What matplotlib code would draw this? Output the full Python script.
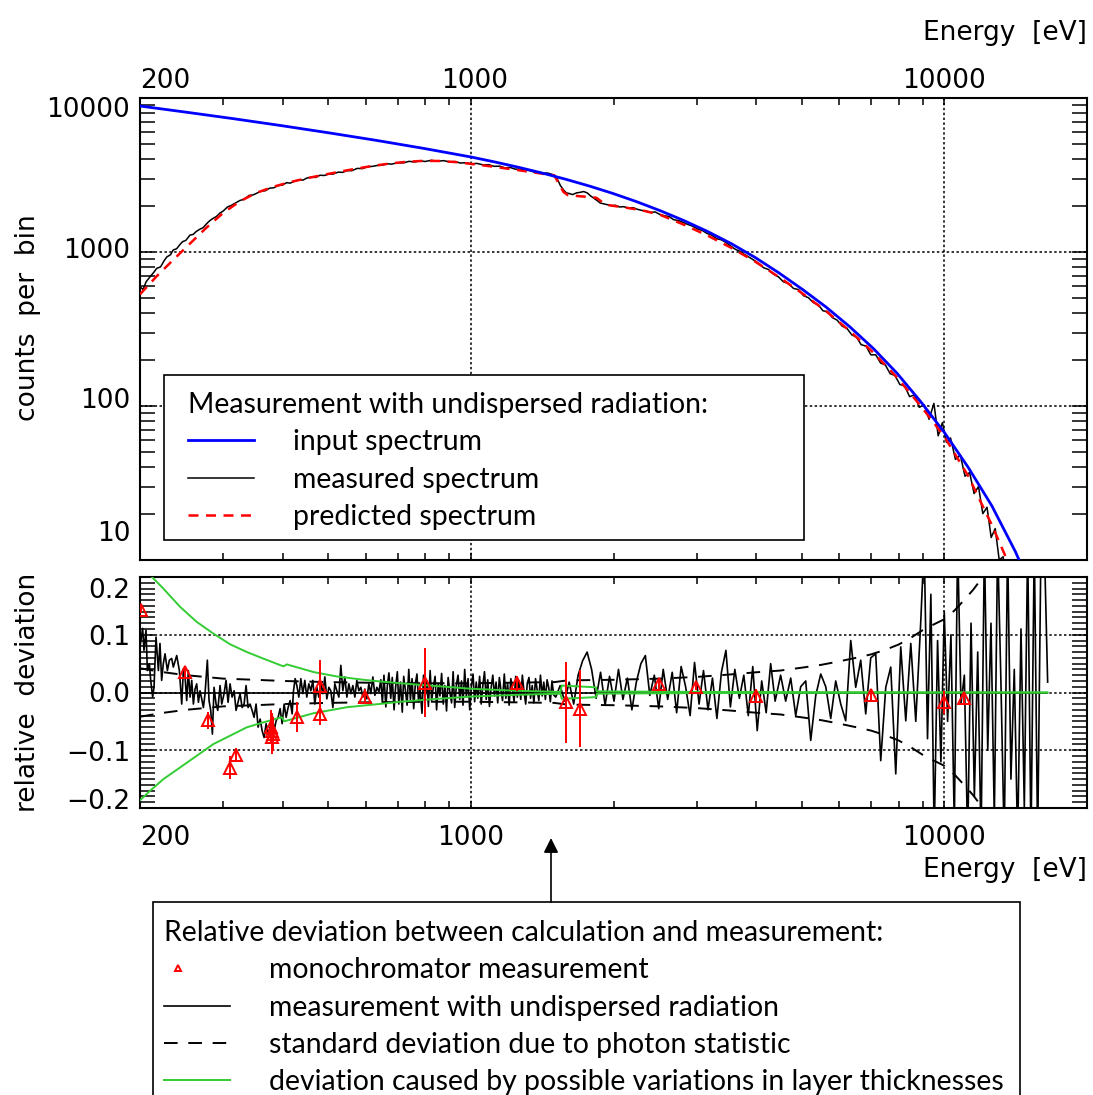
import matplotlib
matplotlib.use("Agg")
import matplotlib.pyplot as plt
import matplotlib.transforms as mtransforms
from matplotlib.lines import Line2D
from matplotlib.patches import Rectangle, FancyArrowPatch
from matplotlib.legend_handler import HandlerLine2D
from matplotlib.ticker import LogLocator, NullFormatter, MultipleLocator

# ---------------- spectra (counts per bin) ----------------
input_energy = [200, 251, 316, 398, 501, 631, 794, 1000, 1122, 1259, 1413, 1585, 1778,
                1995, 2239, 2512, 2818, 3162, 3548, 3981, 4467, 5012, 5623, 6310, 7079,
                7943, 8913, 10000, 11220, 12589, 14125, 15849]
input_counts = [8870, 8080, 7330, 6614, 5940, 5308, 4709, 4140, 3845, 3551, 3258, 2968, 2682,
                2399, 2121, 1853, 1599, 1358, 1132, 922, 733, 572, 439, 327, 236,
                163, 106.5, 67.2, 40.0, 22.5, 11.3, 5.04]

pred_energy = [200, 216.8, 235.2, 255.1, 276.7, 300.1, 325.4, 352.9, 382.8, 415.1, 450.2,
               488.3, 529.6, 574.4, 623, 675.6, 732.8, 794.8, 862, 934.9, 1000, 1100, 1200,
               1300, 1400, 1500, 1568, 1600, 1700, 1786, 1840, 1900, 1940, 2100, 2280, 2512,
               2818, 3162, 3548, 3981, 4467, 5012, 5623, 6310, 7079, 7943, 8913, 10000,
               11220, 12589, 14125]
pred_counts = [531, 695, 891, 1135, 1445, 1799, 2138, 2427, 2655, 2844, 3013,
               3170, 3327, 3483, 3631, 3758, 3855, 3908, 3899, 3828, 3733, 3600, 3470,
               3350, 3240, 3140, 2455, 2345, 2300, 2276, 2250, 2090, 2020, 1950, 1875, 1742,
               1503, 1277, 1064, 867, 689, 538, 413, 307, 222, 153, 100, 63.2,
               35.2, 16.9, 7.5]

meas_energy = [200, 203, 206, 210, 214, 217, 221, 225, 228, 232, 235, 239, 243, 246, 250,
               255, 259, 263, 268, 272, 277, 281, 285, 290, 295, 300, 306, 312, 318, 325,
               332, 340, 347, 353, 360, 368, 376, 383, 392, 400, 408, 415, 424, 433, 442,
               450, 460, 470, 480, 490, 500, 512, 524, 536, 548, 560, 575, 590, 605, 620,
               635, 650, 665, 680, 700, 720, 740, 760, 780, 800, 825, 850, 875, 900, 925,
               950, 975, 1000, 1030, 1060, 1090, 1120, 1150, 1180, 1210, 1240, 1270, 1300,
               1330, 1360, 1390, 1420, 1450, 1480, 1500, 1520, 1545, 1570, 1590, 1610, 1640,
               1670, 1700, 1730, 1760, 1790, 1820, 1850, 1875, 1900, 1940, 1980, 2020, 2060,
               2100, 2150, 2200, 2250, 2300, 2350, 2400, 2450, 2500, 2560, 2620, 2680, 2740,
               2800, 2870, 2940, 3010, 3080, 3150, 3220, 3300, 3380, 3460, 3540, 3620, 3700,
               3790, 3880, 3970, 4060, 4150, 4250, 4350, 4460, 4570, 4680, 4800, 4920, 5040,
               5160, 5280, 5410, 5540, 5670, 5800, 5940, 6080, 6220, 6370, 6520, 6670, 6830,
               6990, 7160, 7330, 7500, 7680, 7860, 8050, 8240, 8440, 8640, 8850, 9060, 9280,
               9500, 9700, 9900, 10100, 10300, 10550, 10800, 11050, 11300, 11550, 11800,
               12050, 12300, 12550, 12800, 13050, 13300, 13550]
meas_counts = [596, 570, 640, 690, 740, 784, 800, 880, 930, 960, 1030, 1050, 1120, 1167, 1190,
               1288, 1300, 1360, 1410, 1440, 1535, 1600, 1650, 1700, 1790, 1850, 1960, 2010,
               2080, 2160, 2200, 2330, 2350, 2410, 2480, 2500, 2600, 2610, 2700, 2720, 2820,
               2800, 2880, 2940, 2930, 3020, 3060, 3050, 3150, 3140, 3200, 3210, 3300, 3290,
               3380, 3370, 3490, 3480, 3580, 3600, 3650, 3660, 3740, 3720, 3800, 3790, 3880,
               3840, 3910, 3870, 3940, 3880, 3920, 3850, 3870, 3780, 3800, 3740, 3760, 3680,
               3690, 3600, 3610, 3520, 3540, 3450, 3460, 3400, 3380, 3300, 3310, 3240, 3260,
               3200, 3160, 3000, 2700, 2520, 2420, 2400, 2360, 2420, 2440, 2470, 2420, 2310,
               2230, 2150, 2080, 2060, 2030, 2000, 2010, 1960, 1970, 1930, 1940, 1890, 1860,
               1840, 1810, 1820, 1760, 1720, 1700, 1620, 1600, 1560, 1510, 1470, 1410, 1380,
               1320, 1290, 1220, 1200, 1150, 1090, 1040, 1010, 960, 920, 880, 840, 790, 770,
               720, 690, 640, 625, 580, 570, 520, 505, 470, 455, 415, 410, 375, 360, 330, 320,
               290, 280, 250, 245, 215, 215, 190, 185, 162, 158, 138, 135, 115, 118, 98, 102,
               82, 104, 64, 78, 58, 62, 45, 48, 35, 37, 27, 30, 20, 22, 14, 16, 10, 10.5, 7]

# ---------------- relative deviation ----------------
dev_energy = [
    200.0, 202.6, 203.9, 205.9, 207.3, 209.3, 210.7, 212.7, 214.1, 216.2,
    218.7, 220.4, 222.2, 224.0, 225.9, 228.5, 230.7, 233.3, 235.2, 239.1,
    242.2, 245.0, 247.0, 249.0, 251.0, 253.0, 255.1, 257.2, 259.3, 261.4,
    263.5, 265.7, 267.8, 270.0, 272.2, 274.4, 277.5, 279.8, 282.1, 284.4,
    286.7, 289.5, 291.9, 295.2, 297.6, 301.0, 303.9, 306.9, 309.9, 313.0,
    316.0, 319.1, 322.8, 325.4, 328.6, 331.8, 335.0, 338.3, 341.6, 345.0,
    348.3, 351.7, 355.2, 358.7, 362.2, 365.7, 369.3, 372.9, 376.6, 380.2,
    384.0, 387.7, 391.5, 395.3, 399.2, 403.1, 407.1, 411.0, 415.1, 419.1,
    421.9, 425.3, 428.8, 433.0, 437.2, 441.5, 445.8, 450.1, 454.5, 459.0,
    463.5, 468.0, 472.6, 477.2, 481.9, 486.6, 491.4, 496.2, 501.0, 505.9,
    510.9, 515.8, 520.9, 526.0, 531.1, 536.3, 541.6, 546.9, 552.2, 557.6,
    563.1, 568.6, 574.1, 579.7, 585.4, 591.1, 596.9, 602.7, 608.6, 614.6,
    620.6, 626.7, 632.8, 639.0,
    645, 650, 655, 661, 666, 671, 677, 682, 688, 693,
    699, 704, 710, 716, 721, 727, 733, 739, 745, 751,
    757, 763, 769, 775, 781, 788, 794, 800, 807, 813,
    820, 826, 833, 840, 846, 853, 860, 867, 874, 881,
    888, 895, 902, 910, 917, 924, 932, 939, 947, 955,
    962, 970, 978, 986, 994, 1002, 1010, 1018, 1026, 1034,
    1043, 1051, 1060, 1068, 1077, 1085, 1094, 1103, 1112, 1121,
    1130, 1139, 1148, 1157, 1166, 1176, 1185, 1195, 1204, 1214,
    1224, 1233, 1243, 1253, 1263, 1274, 1284, 1294, 1305, 1315,
    1326, 1336, 1347, 1358, 1369, 1380, 1391, 1402, 1414, 1425,
    1436, 1448, 1460, 1471, 1483, 1495,
    1510, 1543, 1577, 1612, 1648, 1684, 1721, 1759, 1798, 1838, 1878, 1920, 1962,
    2005, 2049, 2094, 2140, 2187, 2235, 2285, 2335, 2386, 2439, 2492, 2547, 2603,
    2661, 2719, 2779, 2840, 2903, 2966, 3032, 3098, 3167, 3236, 3307, 3380, 3455,
    3531, 3608, 3688, 3769, 3852, 3937, 4023, 4112, 4202, 4295, 4389,
    4508, 4620, 4735, 4851, 4970, 5093, 5219, 5348, 5479, 5614, 5752, 5893, 6039,
    6187, 6340, 6495, 6655, 6819, 6987, 7159, 7335, 7517, 7701, 7891, 8085, 8285,
    8489, 8698, 8914, 9060, 9209, 9360, 9514, 9670, 9829, 9990, 10154, 10320, 10490,
    10662, 10837, 11015, 11195, 11379, 11565, 11755, 11947, 12143, 12342, 12538,
    12744, 12949, 13158, 13373, 13593, 13816, 14042, 14272, 14508, 14745, 14986,
    15230, 15477, 15732, 15990, 16250, 16516]
dev_value = [
    0.079, 0.111, 0.073, 0.108, 0.038, 0.050, 0.021, -0.008, 0.009, 0.096,
    0.038, 0.085, 0.021, 0.050, 0.067, 0.038, 0.056, 0.059, 0.044, 0.064,
    0.038, -0.020, 0.041, 0.027, -0.014, 0.038, -0.008, 0.021, -0.020, 0.006,
    0.015, -0.017, 0.003, -0.011, -0.026, -0.002, 0.056, -0.014, -0.031, -0.072,
    0.009, -0.020, -0.031, 0.012, -0.020, -0.002, 0.021, -0.017, 0.015, -0.008,
    0.003, -0.031, -0.014, -0.002, -0.026, -0.020, 0.012, -0.026, -0.020, -0.031,
    -0.043, -0.020, -0.060, -0.046, -0.066, -0.078, -0.054, -0.072, -0.060, -0.037,
    -0.066, -0.049, -0.043, -0.028, -0.054, -0.020, -0.043, -0.026, -0.014, -0.037,
    0.003, 0.024, 0.012, -0.008, 0.024, -0.002, 0.021, -0.008, 0.015, 0.003,
    0.021, -0.020, 0.009, -0.008, 0.015, -0.002, 0.027, -0.011, 0.009, 0.003,
    -0.026, 0.015, 0.003, -0.008, 0.047, 0.003, 0.027, -0.008, 0.015, -0.002,
    0.012, -0.008, 0.021, 0.003, 0.009, -0.008, 0.006, -0.011, 0.015, -0.002,
    0.027, -0.005, 0.009, 0.001,
    0.022, -0.018, 0.030, -0.025, 0.012, 0.034, -0.010, 0.026, -0.030, 0.008,
    0.036, -0.020, 0.018, -0.034, 0.028, 0.004, -0.022, 0.040, -0.012, 0.024,
    -0.028, 0.015, 0.032, -0.016, 0.006, -0.036, 0.030, -0.008, 0.020, -0.024,
    0.038, -0.014, 0.010, 0.028, -0.030, 0.016, -0.006, 0.033, -0.020, 0.012,
    -0.032, 0.026, 0.002, -0.018, 0.036, -0.026, 0.014, 0.030, -0.012, 0.020,
    -0.022, 0.040, -0.008, 0.024, -0.030, 0.010, 0.032, -0.016, 0.018, -0.010,
    0.028, -0.020, 0.014, 0.036, -0.012, 0.022, -0.024, 0.008, 0.030, -0.006,
    0.018, -0.018, 0.026, 0.004, -0.014, 0.032, -0.010, 0.016, -0.022, 0.024,
    0.006, -0.016, 0.028, -0.008, 0.020, -0.012, 0.030, 0.002, -0.020, 0.016,
    0.026, -0.010, 0.012, -0.018, 0.024, 0.004, -0.014, 0.030, -0.006, 0.018,
    -0.012, 0.022, 0.008, -0.016, 0.020, -0.004,
    -0.008, 0.012, -0.015, 0.018, -0.020, 0.030, 0.055, 0.070, 0.040, -0.010,
    0.035, -0.022, 0.028, -0.015, 0.040, -0.012, 0.025, -0.030, 0.018, 0.050,
    0.064, -0.005, 0.030, -0.028, 0.040, -0.012, 0.035, -0.035, 0.045, 0.010,
    -0.040, 0.052, -0.020, 0.038, -0.030, 0.025, -0.045, 0.035, 0.073, -0.025,
    0.040, -0.010, 0.030, -0.040, 0.045, -0.066, 0.020, -0.035, 0.050, -0.015,
    0.030, -0.015, 0.025, -0.040, 0.010, 0.020, -0.083, -0.005, 0.032, 0.010,
    -0.045, 0.020, -0.020, -0.049, 0.090, 0.009, 0.056, -0.037, 0.060, 0.067,
    -0.118, 0.009, 0.044, -0.141, 0.079, -0.049, 0.085, -0.050, 0.125, 0.260,
    -0.080, 0.170, -0.250, 0.090, -0.120, 0.140, -0.050, 0.100, -0.230, 0.260,
    -0.020, 0.030, -0.260, 0.120, -0.180, 0.070, -0.260, 0.260, -0.100, 0.120,
    -0.220, 0.260, 0.020, -0.260, 0.260, -0.150, 0.040, -0.260, 0.110, -0.200,
    0.260, -0.260, 0.260, -0.260, 0.260, 0.260, 0.018]

photon_energy = [200, 220, 250, 300, 350, 400, 500, 600, 800, 1000, 1500, 1600, 2000,
                 2500, 3000, 3500, 4000, 4500, 5000, 5500, 6000, 6500, 7000, 7500, 8000,
                 8500, 9000, 9500, 10000, 10500, 11000, 11500, 12000, 12500]
photon_sigma = [0.042, 0.036, 0.030, 0.024, 0.022, 0.020, 0.018, 0.017, 0.016, 0.016,
                0.018, 0.021, 0.022, 0.024, 0.027, 0.031, 0.035, 0.038, 0.043, 0.048,
                0.054, 0.060, 0.066, 0.074, 0.083, 0.095, 0.108, 0.118, 0.127, 0.142,
                0.160, 0.178, 0.198, 0.225]

layer_upper_energy = [200, 211.7, 224.0, 243.0, 263.5, 285.8, 310.0, 336.2, 364.6, 401.9,
                      408.4, 465.1, 520.8, 593.3, 643.4, 709, 850, 1000, 1250, 1545, 1555,
                      1835, 1845, 3000, 16500]
layer_upper = [0.221, 0.2006, 0.180, 0.1484, 0.1223, 0.102, 0.0835, 0.0701, 0.0586, 0.0452,
               0.0487, 0.0354, 0.0278, 0.022, 0.0191, 0.016, 0.011, 0.0065, 0.003, 0.001, 0.012,
               0.009, 0.002, 0.001, 0.0]
layer_lower_energy = [200, 209.9, 224.0, 243.0, 263.5, 285.8, 310.0, 336.2, 364.6, 398.6,
                      403.2, 465.1, 546.8, 643.4, 709, 850, 1000, 1250, 1545, 1555, 1835,
                      1845, 3000, 16500]
layer_lower = [-0.1867, -0.1704, -0.1501, -0.1299, -0.1096, -0.0893, -0.0748, -0.0603, -0.0516,
               -0.0429, -0.0499, -0.0359, -0.0255, -0.0197, -0.016, -0.011, -0.007, -0.004,
               -0.002, -0.011, -0.008, -0.002, -0.001, 0.0]

mono_energy = [201, 249, 279, 310, 319, 378, 380, 382, 380, 429, 480, 480, 598, 798,
               1248, 1590, 1700, 2500, 2980, 4000, 6980, 10000, 11000]
mono_dev = [0.143, 0.035, -0.048, -0.130, -0.108, -0.060, -0.066, -0.072, -0.077, -0.043,
            0.012, -0.037, -0.007, 0.017, 0.016, -0.017, -0.028, 0.014, 0.010, -0.006,
            -0.005, -0.017, -0.009]
mono_err = [0.006, 0.010, 0.015, 0.020, 0.012, 0.030, 0.030, 0.030, 0.030, 0.026,
            0.045, 0.020, 0.013, 0.060, 0.013, 0.070, 0.067, 0.008, 0.006, 0.012,
            0.010, 0.020, 0.010]

x_ticks = [200, 1000, 10000]
x_ticklabels = ["200", "1000", "10000"]
count_ticks = [10, 100, 1000, 10000]
count_ticklabels = ["10", "100", "1000", "10000"]
dev_ticks = [-0.2, -0.1, 0.0, 0.1, 0.2]
dev_ticklabels = ["\u22120.2", "\u22120.1", "0.0", "0.1", "0.2"]

# ---------------- figure ----------------
W, H = 1093, 1095
DPI = 100
fig = plt.figure(figsize=(W / DPI, H / DPI), dpi=DPI)
ax1 = fig.add_axes([140 / W, 1 - 560 / H, 947 / W, 462 / H])
ax2 = fig.add_axes([140 / W, 1 - 808 / H, 947 / W, 231 / H])

LEG_FONT = "Lato"
LEG_SIZE = 20.4
grid_style = dict(color="black", linestyle=(0, (1.6, 1.6)), linewidth=1.1)


def shift(label, dx, dy):
    label.set_transform(label.get_transform() +
                        mtransforms.ScaledTranslation(dx / DPI, dy / DPI, fig.dpi_scale_trans))


class LeftMarkerHandler(HandlerLine2D):
    """Legend handler that puts a lone marker near the left end of the handle box."""

    def create_artists(self, legend, orig_handle, xdescent, ydescent, width, height,
                       fontsize, trans):
        artists = super().create_artists(legend, orig_handle, xdescent, ydescent, width,
                                         height, fontsize, trans)
        for a in artists:
            a.set_xdata([-xdescent + 0.5 * fontsize] * len(a.get_xdata()))
        return artists


for ax in (ax1, ax2):
    ax.set_xscale("log")
    ax.set_xlim(200, 20000)
    ax.set_xticks(x_ticks, x_ticklabels)
    ax.xaxis.set_minor_locator(LogLocator(base=10, subs=range(2, 10), numticks=20))
    ax.xaxis.set_minor_formatter(NullFormatter())
    ax.tick_params(axis="both", which="both", direction="in", top=True, right=True,
                   width=1.1, color="black", labelsize=19)
    ax.tick_params(axis="x", which="both", length=5)
    ax.tick_params(axis="y", which="both", length=10.8, pad=7)
    for s in ax.spines.values():
        s.set_linewidth(1.5)
    ax.grid(True, which="major", **grid_style)
    ax.set_axisbelow(False)

# ---- top panel: spectra ----
ax1.set_yscale("log")
ax1.set_ylim(10, 10000)
ax1.set_yticks(count_ticks, count_ticklabels)
ax1.yaxis.set_minor_locator(LogLocator(base=10, subs=range(2, 10), numticks=20))
ax1.yaxis.set_minor_formatter(NullFormatter())
ax1.tick_params(axis="x", which="both", labeltop=True, labelbottom=False, pad=2.7)

h_meas, = ax1.plot(meas_energy, meas_counts, color="black", lw=1.1, zorder=3,
                   label="measured spectrum")
h_pred, = ax1.plot(pred_energy, pred_counts, color="red", lw=1.8, ls=(0, (4, 3)),
                   zorder=4, label="predicted spectrum")
h_in, = ax1.plot(input_energy, input_counts, color="#0000ff", lw=2.0, zorder=5,
                 label="input spectrum")

ax1.set_ylabel("counts  per  bin", fontsize=19, family="DejaVu Sans", va="center", ha="center")
ax1.yaxis.set_label_coords(-0.118, 0.524)
ax1.xaxis.set_label_position("top")
ax1.set_xlabel("Energy  [eV]", fontsize=19, family="DejaVu Sans", ha="right", va="center")
ax1.xaxis.set_label_coords(1.0, (560 - 33) / 462)

legend_kw = dict(borderaxespad=0, borderpad=0, alignment="left", frameon=False,
                 prop=dict(family=LEG_FONT, size=LEG_SIZE),
                 title_fontproperties=dict(family=LEG_FONT, size=LEG_SIZE),
                 handlelength=2.33, handletextpad=1.38, labelspacing=0.4)

leg1 = ax1.legend(handles=[h_in, h_meas, h_pred],
                  title="Measurement with undispersed radiation:",
                  loc="upper left", bbox_to_anchor=((188 - 140) / 947, (560 - 392) / 462),
                  **legend_kw)
leg1.set_zorder(10)
ax1.add_patch(Rectangle(((164 - 140) / 947, (560 - 540) / 462), 640 / 947, 165 / 462,
                        transform=ax1.transAxes, facecolor="white", edgecolor="black",
                        lw=1.2, zorder=9))

# ---- bottom panel: relative deviation ----
ax2.set_ylim(-0.2, 0.2)
ax2.set_yticks(dev_ticks, dev_ticklabels)
ax2.yaxis.set_minor_locator(MultipleLocator(0.01))
ax2.tick_params(axis="x", which="both", labeltop=False, labelbottom=True, pad=12)

h_dev, = ax2.plot(dev_energy, dev_value, color="black", lw=1.2, zorder=3)
ax2.hlines(0.0, dev_energy[0], dev_energy[-1], color="black", lw=1.2, zorder=3)
h_sig, = ax2.plot(photon_energy, photon_sigma, color="black", lw=1.4, ls=(0, (7, 5.5)), zorder=4)
ax2.plot(photon_energy, [-s for s in photon_sigma], color="black", lw=1.4, ls=(0, (7, 5.5)), zorder=4)
h_layer, = ax2.plot(layer_upper_energy, layer_upper, color="#33cc33", lw=1.4, zorder=5)
ax2.plot(layer_lower_energy, layer_lower, color="#33cc33", lw=1.4, zorder=5)
ax2.errorbar(mono_energy, mono_dev, yerr=mono_err, fmt="^", mfc="none", mec="red",
             ms=8.5, mew=1.4, ecolor="red", elinewidth=1.4, capsize=0, zorder=6)

ax2.set_ylabel("relative  deviation", fontsize=19, family="DejaVu Sans", va="center", ha="center")
ax2.yaxis.set_label_coords(-0.118, 0.5)
ax2.set_xlabel("Energy  [eV]", fontsize=19, family="DejaVu Sans", ha="right", va="center")
ax2.xaxis.set_label_coords(1.0, (808 - 870) / 231)

# tick label placement
for t, dy in zip(ax1.yaxis.get_major_ticks(), [29, 8, 4, -9]):
    shift(t.label1, 0, dy)
for t, dy in zip(ax2.yaxis.get_major_ticks(), [9, -1, 0, 0, -11]):
    shift(t.label1, 0, dy)
ax1.xaxis.get_major_ticks()[0].label2.set_horizontalalignment("left")
ax2.xaxis.get_major_ticks()[0].label1.set_horizontalalignment("left")
shift(ax1.xaxis.get_major_ticks()[1].label2, 4, 0)

# legend for the deviation panel
mono_handle = Line2D([], [], ls="none", marker="^", mfc="none", mec="red", ms=5, mew=1.4)
leg2 = fig.legend(handles=[mono_handle, h_dev, h_sig, h_layer],
                  labels=["monochromator measurement",
                          "measurement with undispersed radiation",
                          "standard deviation due to photon statistic",
                          "deviation caused by possible variations in layer thicknesses"],
                  title="Relative deviation between calculation and measurement:",
                  loc="upper left", bbox_to_anchor=(164 / W, 1 - 920 / H),
                  handler_map={mono_handle: LeftMarkerHandler()},
                  **legend_kw)
fig.add_artist(Rectangle((153 / W, 1 - 1100 / H), (1020 - 153) / W, 198 / H,
                         transform=fig.transFigure, facecolor="none", edgecolor="black",
                         lw=1.2))

# arrow from the legend box to the deviation panel
fig.add_artist(FancyArrowPatch(
    (551 / W, 1 - 902 / H), (551 / W, 1 - 838 / H), transform=fig.transFigure,
    arrowstyle="-|>", mutation_scale=22, color="black", lw=1.2, shrinkA=0, shrinkB=0))

fig.savefig("out.png", dpi=DPI)
